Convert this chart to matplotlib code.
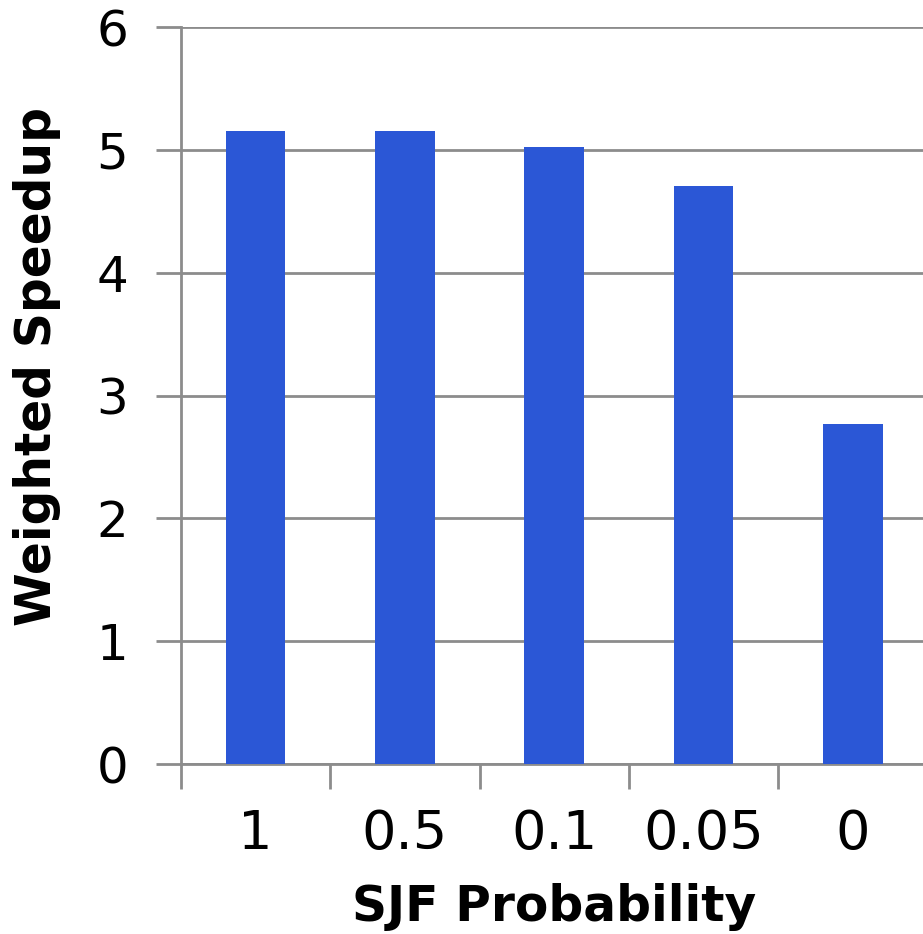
import numpy as np
import matplotlib
matplotlib.use("Agg")
import matplotlib.pyplot as plt

categories = ['1', '0.5', '0.1', '0.05', '0']
speedup = [5.15, 5.15, 5.02, 4.71, 2.77]

bar_color = '#2B57D6'
grid_color = '#8C8C8C'


def main():
    fig = plt.figure(figsize=(9.23, 9.34), dpi=100)
    ax = fig.add_axes([0.196, 0.182, 0.809, 0.789])

    x_pos = np.arange(len(categories))
    ax.bar(x_pos, speedup, width=0.4, color=bar_color, zorder=3)

    ax.set_xlim(-0.5, len(categories) - 0.5)
    ax.set_ylim(0, 6)
    ax.set_yticks(range(0, 7))

    # category boundary ticks on the x axis, labels in the middle
    ax.set_xticks(np.arange(len(categories)) - 0.5)
    ax.set_xticklabels([])
    ax.set_xticks(x_pos, minor=True)
    ax.set_xticklabels(categories, minor=True, fontsize=39)
    ax.tick_params(axis='x', which='minor', length=0, pad=32)
    ax.tick_params(axis='x', which='major', length=18, width=2,
                   color=grid_color, direction='out')
    ax.tick_params(axis='y', length=18, width=2, color=grid_color,
                   labelsize=36, pad=20)

    ax.grid(True, axis='y', color=grid_color, linewidth=2, zorder=0)
    for side in ['top', 'right']:
        ax.spines[side].set_visible(False)
    for side in ['left', 'bottom']:
        ax.spines[side].set_color(grid_color)
        ax.spines[side].set_linewidth(2)

    ax.set_xlabel('SJF Probability', fontsize=35, fontweight='bold',
                  labelpad=16)
    ax.set_ylabel('Weighted Speedup', fontsize=35, fontweight='bold')
    ax.yaxis.set_label_coords(-0.16, 0.54)

    fig.savefig('out.png', dpi=100)


if __name__ == "__main__":
    main()
